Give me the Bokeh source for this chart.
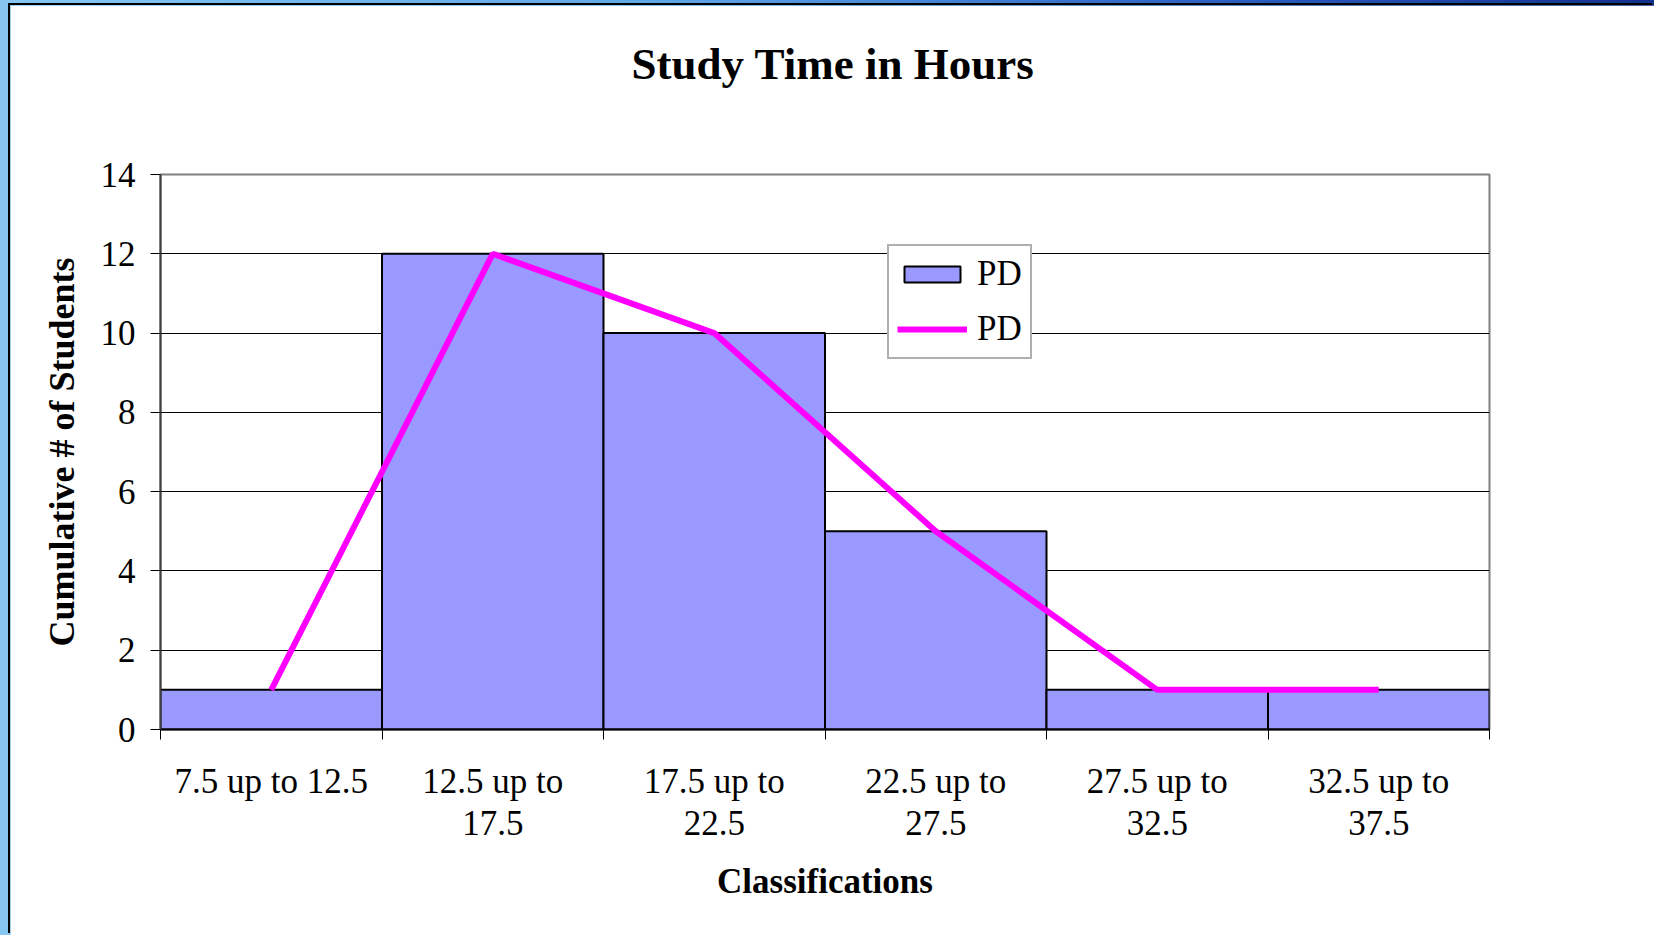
from bokeh.plotting import figure
from bokeh.models import (Range1d, FixedTicker, Legend, LegendItem, ColumnDataSource, Title)
from bokeh.layouts import column
from bokeh.embed import file_html
from bokeh.resources import INLINE

# ---- data ----
tick_labels = ["7.5 up to 12.5", "12.5 up to\n17.5", "17.5 up to\n22.5",
               "22.5 up to\n27.5", "27.5 up to\n32.5", "32.5 up to\n37.5"]
bar_values = [1, 12, 10, 5, 1, 1]
line_values = [1, 12, 10, 5, 1, 1]
series_name = "PD"
y_ticks = [0, 2, 4, 6, 8, 10, 12, 14]

n = len(tick_labels)
centers = [i + 0.5 for i in range(n)]
bounds = list(range(n + 1))

FONT = "Liberation Serif"

p = figure(width=1644, height=930, output_backend="svg", toolbar_location=None,
           x_range=Range1d(0, n), y_range=Range1d(0, 14),
           min_border_left=150, min_border_right=165, min_border_top=169, min_border_bottom=206,
           background_fill_color="white", border_fill_color="white")
p.margin = (5, 0, 0, 10)
p.styles = {"box-shadow": "-2px -2px 0 0 black"}

p.title = Title(text="Study Time in Hours", align="left", text_font=FONT,
                text_font_size="45px", text_font_style="bold", text_color="black",
                standoff=62, offset=471)
# spacer panel between title and frame
p.add_layout(Title(text=" ", text_font_size="1px", standoff=52), "above")

src = ColumnDataSource(dict(x=centers, top=bar_values, y=line_values))
r_bar = p.vbar(x="x", top="top", width=1, source=src, fill_color="#9999FF",
               line_color="black", line_width=2)
r_line = p.line(x="x", y="y", source=src, line_color="#FF00FF", line_width=6)

# frame
p.outline_line_color = "#808080"
p.outline_line_width = 2

# grid
p.xgrid.visible = False
p.ygrid.grid_line_color = "black"
p.ygrid.grid_line_width = 1

# x axis
xa = p.xaxis[0]
xa.ticker = FixedTicker(ticks=centers, minor_ticks=bounds)
xa.major_label_overrides = {c: lab for c, lab in zip(centers, tick_labels)}
xa.major_tick_line_color = None
xa.minor_tick_line_color = "black"
xa.minor_tick_out = 10
xa.minor_tick_in = 0
xa.major_label_text_font = FONT
xa.major_label_text_font_size = "35px"
xa.major_label_text_color = "black"
xa.major_label_text_line_height = 1.08
xa.major_label_standoff = 22
xa.axis_line_color = "black"
xa.axis_line_width = 2
xa.axis_label = "Classifications"
xa.axis_label_text_font = FONT
xa.axis_label_text_font_size = "35px"
xa.axis_label_text_font_style = "bold"
xa.axis_label_text_color = "black"
xa.axis_label_standoff = 16

# y axis
ya = p.yaxis[0]
ya.ticker = FixedTicker(ticks=y_ticks)
ya.minor_tick_line_color = None
ya.major_tick_line_color = "black"
ya.major_tick_out = 10
ya.major_tick_in = 0
ya.major_label_text_font = FONT
ya.major_label_text_font_size = "35px"
ya.major_label_text_color = "black"
ya.major_label_standoff = 15
ya.axis_line_color = "#404040"
ya.axis_line_width = 2
ya.axis_label = "Cumulative # of Students"
ya.axis_label_text_font = FONT
ya.axis_label_text_font_size = "36px"
ya.axis_label_text_font_style = "bold"
ya.axis_label_text_color = "black"
ya.axis_label_standoff = 16

legend = Legend(items=[LegendItem(label=series_name, renderers=[r_bar]),
                       LegendItem(label=series_name, renderers=[r_line])],
                location=(727, 370), orientation="vertical",
                glyph_width=70, glyph_height=20, label_text_font=FONT,
                label_text_font_size="35px", label_text_color="black",
                label_standoff=10, spacing=15, padding=8,
                border_line_color="#606060", border_line_width=2,
                background_fill_color="white", background_fill_alpha=1.0,
                margin=0)
p.add_layout(legend, "center")

layout = column(p, styles={"background": "linear-gradient(to right, #86c6f1 0%, #5fa6e6 40%, #2b5cc0 75%, #12308a 100%)"},
                width=1654, height=935)

open("out.html", "w").write(file_html(layout, INLINE))
